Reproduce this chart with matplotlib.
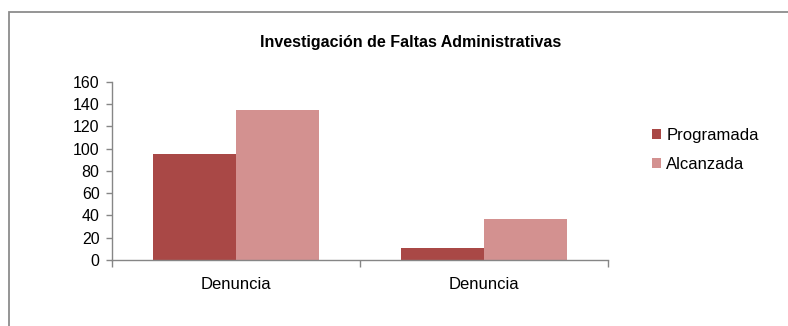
import numpy as np
import matplotlib
matplotlib.use("Agg")
import matplotlib.pyplot as plt
from matplotlib.patches import Rectangle

# ------------------------------------------------
# Data
# ------------------------------------------------
categories = ["Denuncia", "Denuncia"]
series_names = ["Programada", "Alcanzada"]
programada = [95, 11]
alcanzada = [135, 37]
y_ticks = [0, 20, 40, 60, 80, 100, 120, 140, 160]
title = "Investigación de Faltas Administrativas"

colors = ["#A94846", "#D39190"]
axis_gray = "#868686"

plt.rcParams["font.family"] = ["Liberation Sans", "DejaVu Sans"]

fig = plt.figure(figsize=(7.88, 3.26), dpi=100)
ax = fig.add_axes([112 / 788, 1 - 260 / 326, 496 / 788, 178.3 / 326])

# ------------------------------------------------
# Grouped bars (each category spans one unit)
# ------------------------------------------------
x = np.arange(len(categories)) + 0.5
bar_w = 1 / 3
ax.bar(x - bar_w / 2, programada, width=bar_w, color=colors[0],
       label=series_names[0], zorder=2)
ax.bar(x + bar_w / 2, alcanzada, width=bar_w, color=colors[1],
       label=series_names[1], zorder=2)

ax.set_xlim(0, len(categories))
ax.set_ylim(0, 160)
ax.set_yticks(y_ticks)

# category labels centred, tick marks on the boundaries
ax.set_xticks(np.arange(len(categories) + 1))
ax.set_xticklabels([])
ax.set_xticks(x, minor=True)
ax.set_xticklabels(categories, minor=True)
ax.tick_params(axis="x", which="major", direction="out", length=5,
               width=1, color=axis_gray)
ax.tick_params(axis="x", which="minor", length=0, pad=12, labelsize=12)
ax.tick_params(axis="y", direction="out", length=4.5, width=1,
               color=axis_gray, pad=4.5, labelsize=11.5)

for side in ["top", "right"]:
    ax.spines[side].set_visible(False)
for side in ["left", "bottom"]:
    ax.spines[side].set_color(axis_gray)
    ax.spines[side].set_linewidth(1)

# ------------------------------------------------
# Title, legend and chart border
# ------------------------------------------------
fig.text(411 / 788, 1 - 42 / 326, title, ha="center", va="center",
         fontsize=11.5, fontweight="bold")

fig.legend(loc="center left", bbox_to_anchor=(637 / 788, 1 - 150 / 326),
           frameon=False, fontsize=12, handlelength=0.55, handleheight=0.55,
           handletextpad=0.3, labelspacing=0.8)

fig.patches.append(Rectangle((8.5 / 788, -0.1), 1.2, 1 - 12 / 326 + 0.1,
                             transform=fig.transFigure, fill=False,
                             edgecolor="#8C8C8C", linewidth=1.3))

fig.savefig("out.png", dpi=100)
